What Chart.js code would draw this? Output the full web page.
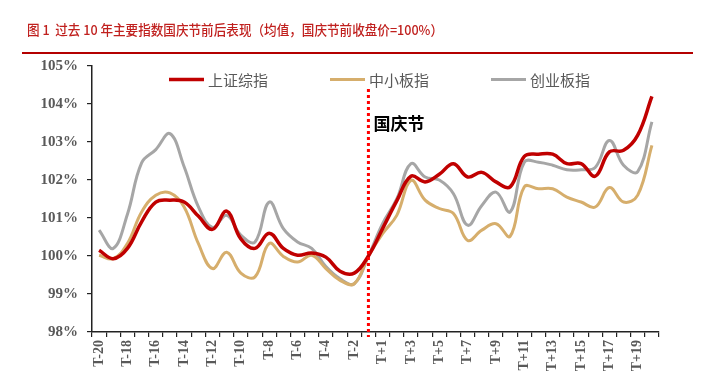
<!DOCTYPE html>
<html>
<head>
<meta charset="utf-8">
<script src="https://cdn.jsdelivr.net/npm/chart.js@4"></script>
<style>
  html, body { margin: 0; padding: 0; background: #fff; }
  #wrap { width: 712px; height: 384px; }
</style>
</head>
<body>
<div id="wrap"><canvas id="holiday"></canvas></div>
<script>
// T-20..T-1, then T+1..T+20 (no T0; T-1 is the close before the holiday = 100%)
const labels = [
  "T-20","T-19","T-18","T-17","T-16","T-15","T-14","T-13","T-12","T-11",
  "T-10","T-9","T-8","T-7","T-6","T-5","T-4","T-3","T-2","T-1",
  "T+1","T+2","T+3","T+4","T+5","T+6","T+7","T+8","T+9","T+10",
  "T+11","T+12","T+13","T+14","T+15","T+16","T+17","T+18","T+19","T+20"
];

const shComposite = [
  100.15, 99.93, 100.2, 100.9, 101.42, 101.47, 101.42, 101.05, 100.7, 101.18,
  100.45, 100.2, 100.6, 100.2, 100.02, 100.08, 99.97, 99.6, 99.55, 100.0,
  100.72, 101.45, 102.1, 101.95, 102.15, 102.43, 102.08, 102.2, 101.95, 101.82,
  102.62, 102.68, 102.68, 102.43, 102.43, 102.1, 102.74, 102.78, 103.18, 104.2
];

const smeBoard = [
  100.02, 99.93, 100.33, 101.16, 101.6, 101.66, 101.29, 100.33, 99.67, 100.1,
  99.55, 99.45, 100.33, 99.99, 99.84, 100.02, 99.67, 99.36, 99.27, 100.0,
  100.59, 101.07, 101.99, 101.47, 101.25, 101.12, 100.41, 100.68, 100.85, 100.52,
  101.82, 101.77, 101.77, 101.55, 101.42, 101.29, 101.8, 101.42, 101.6, 102.91
];

const chinext = [
  100.68, 100.2, 101.1, 102.45, 102.8, 103.22, 102.35, 101.3, 100.75, 101.07,
  100.55, 100.37, 101.42, 100.72, 100.37, 100.2, 99.72, 99.4, 99.27, 100.0,
  100.85, 101.5, 102.43, 102.08, 102.0, 101.64, 100.81, 101.33, 101.68, 101.16,
  102.47, 102.47, 102.39, 102.27, 102.27, 102.33, 103.04, 102.39, 102.22, 103.53
];

const seriesNames = ["上证综指", "中小板指", "创业板指"];
const holidayLabel = "T-1";
const yMin = 98, yMax = 105;
const title = "图 1  过去 10 年主要指数国庆节前后表现（均值，国庆节前收盘价=100%）";

const tickColor = "#595959";
const tickFont = "'Liberation Serif', 'DejaVu Serif', serif";

// title, red rule, holiday marker and legend
const decorations = {
  id: "decorations",
  afterDraw(chart) {
    const ctx = chart.ctx;
    const area = chart.chartArea;
    ctx.save();

    ctx.fillStyle = "#C0201E";
    ctx.font = "500 13.5px 'Noto Sans CJK SC'";
    ctx.textBaseline = "middle";
    ctx.textAlign = "left";
    ctx.fillText(title, 27, 30, 416);

    ctx.strokeStyle = "#B40000";
    ctx.lineWidth = 2;
    ctx.beginPath();
    ctx.moveTo(22, 53);
    ctx.lineTo(693, 53);
    ctx.stroke();

    const x = chart.scales.x.getPixelForValue(labels.indexOf(holidayLabel));
    ctx.strokeStyle = "#FF0000";
    ctx.lineWidth = 3;
    ctx.setLineDash([3, 3]);
    ctx.beginPath();
    ctx.moveTo(x, area.top + 23);
    ctx.lineTo(x, area.bottom + 5);
    ctx.stroke();
    ctx.setLineDash([]);

    ctx.fillStyle = "#000";
    ctx.font = "bold 17px 'Noto Sans CJK SC'";
    ctx.fillText("国庆节", x + 5, area.top + 58);

    // legend
    ctx.font = "15px 'Noto Sans CJK SC'";
    const sample = 35, gapIn = 4, gapOut = 62;
    const items = chart.data.datasets.map(ds => ({
      ds, w: sample + gapIn + ctx.measureText(ds.label).width
    }));
    const total = items.reduce((s, it) => s + it.w, 0) + gapOut * (items.length - 1);
    let lx = (area.left + area.right) / 2 - total / 2 + 4;
    const ly = area.top + 13.5;
    items.forEach(it => {
      ctx.strokeStyle = it.ds.borderColor;
      ctx.lineWidth = it.ds.borderWidth;
      ctx.beginPath();
      ctx.moveTo(lx, ly);
      ctx.lineTo(lx + sample, ly);
      ctx.stroke();
      ctx.fillStyle = tickColor;
      ctx.fillText(it.ds.label, lx + sample + gapIn, ly + 1);
      lx += it.w + gapOut;
    });

    ctx.restore();
  }
};

new Chart(document.getElementById("holiday"), {
  type: "line",
  data: {
    labels: labels,
    datasets: [
      { label: seriesNames[0], data: shComposite, borderColor: "#C00000", borderWidth: 3.5 },
      { label: seriesNames[1], data: smeBoard, borderColor: "#D6AE6C", borderWidth: 3 },
      { label: seriesNames[2], data: chinext, borderColor: "#A6A6A6", borderWidth: 3 }
    ]
  },
  options: {
    responsive: true,
    maintainAspectRatio: false,
    animation: false,
    devicePixelRatio: 1,
    layout: { padding: { top: 66, right: 53, bottom: 0, left: 0 } },
    elements: {
      point: { radius: 0 },
      line: { tension: 0.4, fill: false }
    },
    plugins: {
      legend: { display: false },
      tooltip: { enabled: false }
    },
    scales: {
      x: {
        type: "category",
        offset: true,
        afterFit: (s) => { s.height = 52; },
        border: { color: "#222", width: 1.5 },
        grid: { offset: true, drawOnChartArea: false, drawTicks: true, tickLength: 5, color: "#222", lineWidth: 1.2 },
        ticks: {
          autoSkip: false,
          minRotation: 90,
          maxRotation: 90,
          padding: 3,
          color: tickColor,
          font: { family: tickFont, size: 14, weight: "bold" },
          callback: function (value, index) {
            return index % 2 === 0 ? this.getLabelForValue(value) : "";
          }
        }
      },
      y: {
        min: yMin,
        max: yMax,
        afterFit: (s) => { s.width = 92; },
        border: { color: "#222", width: 1.5 },
        grid: { drawOnChartArea: false, drawTicks: true, tickLength: 5, color: "#222", lineWidth: 1.2 },
        ticks: {
          stepSize: 1,
          padding: 9,
          color: tickColor,
          font: { family: tickFont, size: 15, weight: "bold" },
          callback: (v) => v + "%"
        }
      }
    }
  },
  plugins: [decorations]
});
</script>
</body>
</html>
